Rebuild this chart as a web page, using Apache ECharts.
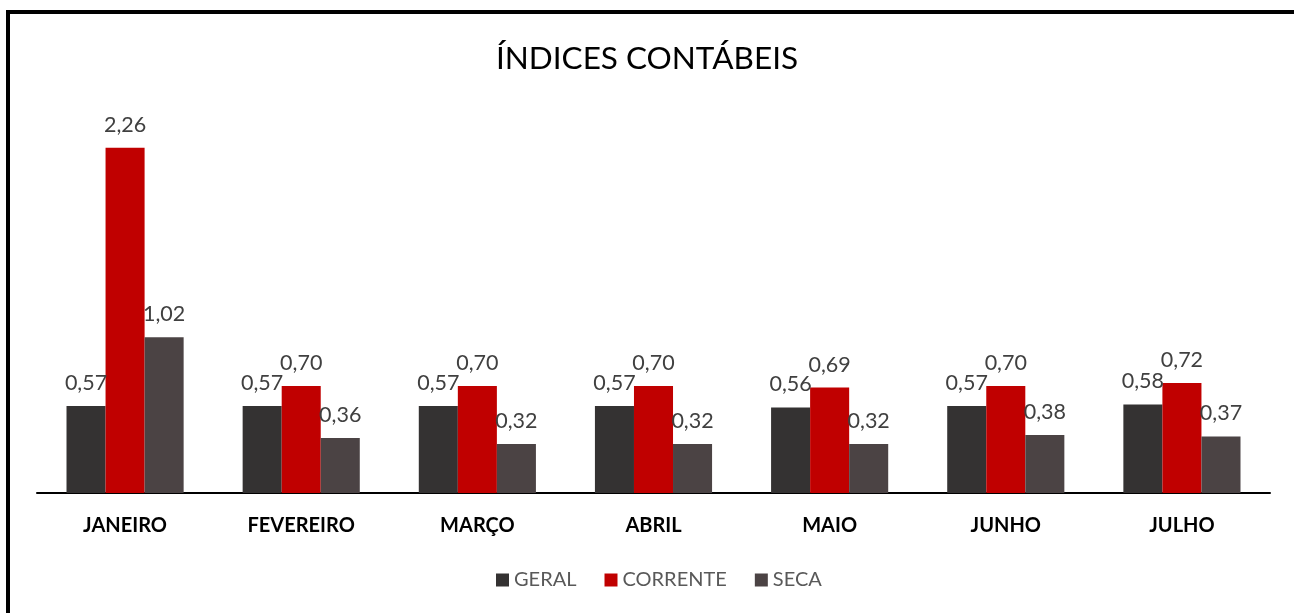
<!DOCTYPE html>
<html><head><meta charset="utf-8">
<script src="https://cdn.jsdelivr.net/npm/echarts@6/dist/echarts.min.js"></script>
<style>html,body{margin:0;padding:0;background:#fff}#c{width:1294px;height:613px}</style>
</head><body><div id="c"></div>
<script>
const categories = ['JANEIRO','FEVEREIRO','MARÇO','ABRIL','MAIO','JUNHO','JULHO'];
const geral = [0.57,0.57,0.57,0.57,0.56,0.57,0.58];
const corrente = [2.26,0.70,0.70,0.70,0.69,0.70,0.72];
const seca = [1.02,0.36,0.32,0.32,0.32,0.38,0.37];
const FONT = 'Lato, "Open Sans", sans-serif';
const chart = echarts.init(document.getElementById('c'));
const fmt = p => p.value.toFixed(2).replace('.', ',');
const lbl = {show:true, position:'top', distance:12, formatter:fmt, color:'#404040', fontSize:21.5, fontFamily:FONT};
chart.setOption({
  animation:false,
  backgroundColor:'#fff',
  title:{text:'ÍNDICES CONTÁBEIS', left:'center', top:38, textStyle:{fontSize:31.5, fontWeight:'normal', color:'#000', fontFamily:FONT}},
  legend:{bottom:18, left:491, itemWidth:13, itemHeight:13, itemGap:28, icon:'rect',
    textStyle:{fontSize:20, color:'#595959', fontFamily:FONT}},
  grid:{left:37, right:24, top:111, bottom:120},
  xAxis:{type:'category', data:categories, axisTick:{show:false},
    axisLine:{lineStyle:{color:'#000', width:2}},
    axisLabel:{margin:23, fontSize:20, fontWeight:'bold', color:'#000', fontFamily:FONT}},
  yAxis:{type:'value', min:0, max:2.5, show:false, splitLine:{show:false}},
  graphic:[
    {type:'line', shape:{x1:6, y1:12, x2:1294, y2:12}, style:{stroke:'#000', lineWidth:4}, silent:true},
    {type:'line', shape:{x1:8, y1:10, x2:8, y2:613}, style:{stroke:'#000', lineWidth:4}, silent:true}
  ],
  series:[
    {name:'GERAL', type:'bar', data:geral, itemStyle:{color:'#343232'}, barGap:'0%', barCategoryGap:'33.5%', label:lbl},
    {name:'CORRENTE', type:'bar', data:corrente, itemStyle:{color:'#C00000'}, barGap:'0%', label:lbl},
    {name:'SECA', type:'bar', data:seca, itemStyle:{color:'#4B4344'}, barGap:'0%', label:lbl}
  ]
});
</script></body></html>
